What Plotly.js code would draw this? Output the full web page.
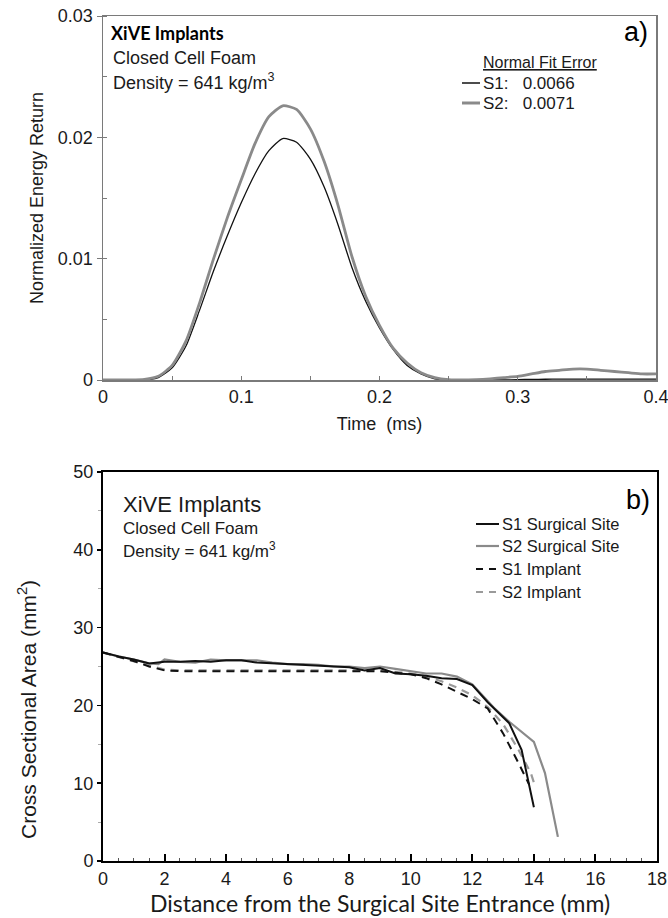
<!DOCTYPE html>
<html>
<head>
<meta charset="utf-8">
<script src="https://cdn.plot.ly/plotly-3.0.1.min.js"></script>
<style>
html,body{margin:0;padding:0;background:#ffffff;}
#chart{width:668px;height:918px;}
</style>
</head>
<body>
<div id="chart"></div>
<script>
// ---------- Panel a) data ----------
const timeMs = [0,0.01,0.02,0.03,0.04,0.05,0.06,0.07,0.08,0.09,0.10,0.11,0.12,0.13,0.14,0.15,0.16,0.17,0.18,0.19,0.20,
                0.21,0.22,0.23,0.24,0.25,0.26,0.27,0.28,0.29,0.30,0.31,0.32,0.33,0.34,0.35,0.36,0.37,0.38,0.39,0.40];
const energyS1 = [0,0,0,0,0.0002,0.0010,0.0028,0.0058,0.0090,0.0119,0.0146,0.0170,0.0189,0.0199,0.0196,0.0182,0.0159,0.0128,0.0093,0.0065,0.0043,
                  0.0025,0.0012,0.0005,0.0001,0,0,0,0,0,0.00003,0.00005,0.00006,0.00007,0.00008,0.00008,0.00008,0.00008,0.00008,0.00008,0.00008];
const energyS2 = [0,0,0,0.00005,0.0003,0.0012,0.0032,0.0064,0.0100,0.0134,0.0165,0.0195,0.0217,0.0226,0.0223,0.0207,0.0180,0.0144,0.0102,0.0069,0.0045,
                  0.0026,0.0014,0.0006,0.0002,0.00003,0,0.00003,0.0001,0.0002,0.0003,0.0005,0.0007,0.0008,0.0009,0.0009,0.0008,0.0007,0.0006,0.0005,0.0005];
const timeTickVals = [0,0.1,0.2,0.3,0.4];
const timeTickText = ['0','0.1','0.2','0.3','0.4'];
const energyTickVals = [0,0.01,0.02,0.03];
const energyTickText = ['0','0.01','0.02','0.03'];

// ---------- Panel b) data ----------
const distS1Site = [0,0.5,1.0,1.5,2.0,2.5,3.0,3.5,4.0,4.5,5.0,5.5,6.0,6.5,7.0,7.5,8.0,8.5,9.0,9.5,10.0,10.5,11.0,11.5,12.0,12.5,13.2,13.6,13.8,14.0];
const areaS1Site = [26.8,26.3,25.9,25.4,25.6,25.6,25.7,25.6,25.8,25.8,25.5,25.4,25.3,25.2,25.1,25.0,24.9,24.5,24.8,24.1,24.0,23.8,23.5,23.4,22.6,20.4,17.7,14.3,10.8,6.9];
const distS2Site = [0,0.5,1.0,1.5,1.8,2.0,2.5,3.0,3.5,4.0,4.5,5.0,5.5,6.0,6.5,7.0,7.5,8.0,8.5,9.0,9.5,10.0,10.5,11.0,11.5,12.0,12.7,13.2,14.0,14.36,14.78];
const areaS2Site = [26.8,26.3,25.9,25.4,25.3,25.9,25.6,25.5,25.9,25.8,25.8,25.8,25.5,25.3,25.3,25.2,25.0,25.0,24.8,25.0,24.7,24.4,24.1,24.1,23.7,22.7,19.7,17.9,15.3,11.3,3.1];
const distS1Implant = [0,0.5,1.0,1.5,2.0,2.5,3,4,5,6,7,8,9,10,10.5,11,11.5,12,12.5,13.0,13.5,13.85];
const areaS1Implant = [26.8,26.2,25.7,25.0,24.5,24.4,24.4,24.4,24.4,24.4,24.4,24.4,24.4,24.0,23.5,22.7,21.8,20.8,19.6,16.4,12.6,9.8];
const distS2Implant = [0,0.5,1.0,1.5,2.0,2.5,3,4,5,6,7,8,9,10,10.5,11,11.5,12,12.5,13.0,13.5,13.9,14.05];
const areaS2Implant = [26.8,26.2,25.7,25.1,24.6,24.5,24.5,24.5,24.5,24.5,24.5,24.5,24.5,24.1,23.7,23.1,22.3,21.3,19.8,17.6,14.3,11.3,9.5];
const distTickVals = [0,2,4,6,8,10,12,14,16,18];
const distTickText = ['0','2','4','6','8','10','12','14','16','18'];
const areaTickVals = [0,10,20,30,40,50];
const areaTickText = ['0','10','20','30','40','50'];

const seriesNamesA = ['S1', 'S2'];
const fitErrors = ['0.0066', '0.0071'];
const seriesNamesB = ['S1 Surgical Site', 'S2 Surgical Site', 'S1 Implant', 'S2 Implant'];

// ---------- styling ----------
const W = 668, H = 918;
const fx = p => p / W;
const fy = p => 1 - p / H;
const ARIAL = 'Liberation Sans, Arial, sans-serif';
const CAL = 'Lato, Open Sans, sans-serif';
const GRAY_AX = '#7a7a7a';
const GRAY_LINE = '#8a8a8a';
const TXT = '#1a1a1a';

const traces = [
  {x: timeMs, y: energyS1, xaxis: 'x', yaxis: 'y', type: 'scatter', mode: 'lines', name: seriesNamesA[0],
   line: {color: '#111111', width: 1.3, shape: 'spline', smoothing: 0.6}},
  {x: timeMs, y: energyS2, xaxis: 'x', yaxis: 'y', type: 'scatter', mode: 'lines', name: seriesNamesA[1],
   line: {color: GRAY_LINE, width: 2.8, shape: 'spline', smoothing: 0.6}},
  {x: distS2Site, y: areaS2Site, xaxis: 'x2', yaxis: 'y2', type: 'scatter', mode: 'lines', name: seriesNamesB[1],
   line: {color: GRAY_LINE, width: 2.2}},
  {x: distS2Implant, y: areaS2Implant, xaxis: 'x2', yaxis: 'y2', type: 'scatter', mode: 'lines', name: seriesNamesB[3],
   line: {color: '#9a9a9a', width: 2.2, dash: '8px,6px'}},
  {x: distS1Implant, y: areaS1Implant, xaxis: 'x2', yaxis: 'y2', type: 'scatter', mode: 'lines', name: seriesNamesB[2],
   line: {color: '#111111', width: 2, dash: '8px,6px'}},
  {x: distS1Site, y: areaS1Site, xaxis: 'x2', yaxis: 'y2', type: 'scatter', mode: 'lines', name: seriesNamesB[0],
   line: {color: '#111111', width: 2}}
];

const tickFont = {family: ARIAL, size: 18, color: TXT};

const layout = {
  width: W, height: H,
  margin: {l: 0, r: 0, t: 0, b: 0},
  paper_bgcolor: '#ffffff', plot_bgcolor: '#ffffff',
  showlegend: false,
  xaxis: {
    domain: [fx(103), fx(656)], range: [0, 0.40001], anchor: 'y',
    tickmode: 'array', tickvals: timeTickVals, ticktext: timeTickText, ticklabeloverflow: 'allow',
    ticks: 'inside', ticklen: 4, tickcolor: GRAY_AX, tickwidth: 1,
    minor: {tickmode: 'linear', tick0: 0, dtick: 0.05, ticks: 'inside', ticklen: 4, tickcolor: GRAY_AX},
    showline: true, linecolor: GRAY_AX, linewidth: 1.5, mirror: true,
    showgrid: false, zeroline: false, tickfont: tickFont,
    title: {text: 'Time  (ms)', font: {family: ARIAL, size: 18, color: TXT}, standoff: 11}
  },
  yaxis: {
    domain: [fy(380), fy(16)], range: [0, 0.03], anchor: 'x',
    tickmode: 'array', tickvals: energyTickVals, ticktext: energyTickText, ticklabeloverflow: 'allow',
    ticks: 'outside', ticklen: 5, tickcolor: GRAY_AX, tickwidth: 1,
    minor: {tickmode: 'linear', tick0: 0, dtick: 0.005, ticks: 'inside', ticklen: 4, tickcolor: GRAY_AX},
    showline: true, linecolor: GRAY_AX, linewidth: 1.5, mirror: true,
    showgrid: false, zeroline: false, tickfont: tickFont,
    title: {text: 'Normalized Energy Return', font: {family: ARIAL, size: 18, color: TXT}, standoff: 9}
  },
  xaxis2: {
    domain: [fx(103), fx(657)], range: [0, 18], anchor: 'y2',
    tickmode: 'array', tickvals: distTickVals, ticktext: distTickText, ticklabeloverflow: 'allow',
    ticks: 'inside', ticklen: 7, tickcolor: '#000', tickwidth: 2,
    minor: {tickmode: 'linear', tick0: 0, dtick: 0.5, ticks: 'inside', ticklen: 3, tickcolor: '#555', tickwidth: 1},
    showline: true, linecolor: '#000', linewidth: 2, mirror: true,
    showgrid: false, zeroline: false, tickfont: tickFont,
    title: {text: 'Distance from the Surgical Site Entrance (mm)', font: {family: CAL, size: 23, color: TXT}, standoff: 6}
  },
  yaxis2: {
    domain: [fy(861), fy(472)], range: [0, 50], anchor: 'x2',
    tickmode: 'array', tickvals: areaTickVals, ticktext: areaTickText, ticklabeloverflow: 'allow',
    ticks: 'outside', ticklen: 4, tickcolor: '#000', tickwidth: 1.5,
    minor: {tickmode: 'linear', tick0: 0, dtick: 5, ticks: 'outside', ticklen: 3, tickcolor: '#aaa', tickwidth: 1},
    showline: true, linecolor: '#000', linewidth: 2, mirror: true,
    showgrid: false, zeroline: false, tickfont: tickFont
  },
  annotations: [
    // panel b y-axis title (sits low along the axis, as in the reference)
    {xref: 'paper', yref: 'paper', x: fx(27), y: fy(710), xanchor: 'center', yanchor: 'middle', showarrow: false,
     textangle: -90, text: 'Cross Sectional Area (mm<sup>2</sup>)', font: {family: ARIAL, size: 21, color: TXT}},
    // panel a text
    {xref: 'paper', yref: 'paper', x: fx(109), y: fy(33), xanchor: 'left', yanchor: 'middle', showarrow: false,
     text: '<b>XiVE Implants</b>', font: {family: CAL, size: 18, color: '#000'}},
    {xref: 'paper', yref: 'paper', x: fx(111), y: fy(58), xanchor: 'left', yanchor: 'middle', showarrow: false,
     text: 'Closed Cell Foam', font: {family: ARIAL, size: 18, color: TXT}},
    {xref: 'paper', yref: 'paper', x: fx(111), y: fy(82), xanchor: 'left', yanchor: 'middle', showarrow: false,
     text: 'Density = 641 kg/m<sup>3</sup>', font: {family: ARIAL, size: 18, color: TXT}},
    {xref: 'paper', yref: 'paper', x: fx(650), y: fy(32), xanchor: 'right', yanchor: 'middle', showarrow: false,
     text: 'a)', font: {family: ARIAL, size: 27, color: '#000'}},
    {xref: 'paper', yref: 'paper', x: fx(540), y: fy(63), xanchor: 'center', yanchor: 'middle', showarrow: false,
     text: '<u>Normal Fit Error</u>', font: {family: ARIAL, size: 16, color: TXT}},
    {xref: 'paper', yref: 'paper', x: fx(481), y: fy(83), xanchor: 'left', yanchor: 'middle', showarrow: false,
     text: seriesNamesA[0] + ':   ' + fitErrors[0], font: {family: ARIAL, size: 17, color: TXT}},
    {xref: 'paper', yref: 'paper', x: fx(481), y: fy(103), xanchor: 'left', yanchor: 'middle', showarrow: false,
     text: seriesNamesA[1] + ':   ' + fitErrors[1], font: {family: ARIAL, size: 17, color: TXT}},
    // panel b text
    {xref: 'paper', yref: 'paper', x: fx(121), y: fy(504), xanchor: 'left', yanchor: 'middle', showarrow: false,
     text: 'XiVE Implants', font: {family: ARIAL, size: 22, color: TXT}},
    {xref: 'paper', yref: 'paper', x: fx(121), y: fy(528), xanchor: 'left', yanchor: 'middle', showarrow: false,
     text: 'Closed Cell Foam', font: {family: ARIAL, size: 17, color: TXT}},
    {xref: 'paper', yref: 'paper', x: fx(121), y: fy(550), xanchor: 'left', yanchor: 'middle', showarrow: false,
     text: 'Density = 641 kg/m<sup>3</sup>', font: {family: ARIAL, size: 17, color: TXT}},
    {xref: 'paper', yref: 'paper', x: fx(652), y: fy(500), xanchor: 'right', yanchor: 'middle', showarrow: false,
     text: 'b)', font: {family: ARIAL, size: 27, color: '#000'}},
    {xref: 'paper', yref: 'paper', x: fx(500), y: fy(524), xanchor: 'left', yanchor: 'middle', showarrow: false,
     text: seriesNamesB[0], font: {family: ARIAL, size: 16.5, color: TXT}},
    {xref: 'paper', yref: 'paper', x: fx(500), y: fy(546), xanchor: 'left', yanchor: 'middle', showarrow: false,
     text: seriesNamesB[1], font: {family: ARIAL, size: 16.5, color: TXT}},
    {xref: 'paper', yref: 'paper', x: fx(500), y: fy(569), xanchor: 'left', yanchor: 'middle', showarrow: false,
     text: seriesNamesB[2], font: {family: ARIAL, size: 16.5, color: TXT}},
    {xref: 'paper', yref: 'paper', x: fx(500), y: fy(592), xanchor: 'left', yanchor: 'middle', showarrow: false,
     text: seriesNamesB[3], font: {family: ARIAL, size: 16.5, color: TXT}}
  ],
  shapes: [
    {type: 'line', xref: 'paper', yref: 'paper', x0: fx(462), x1: fx(480), y0: fy(83), y1: fy(83), line: {color: '#111', width: 1.5}},
    {type: 'line', xref: 'paper', yref: 'paper', x0: fx(462), x1: fx(480), y0: fy(103), y1: fy(103), line: {color: GRAY_LINE, width: 3}},
    {type: 'line', xref: 'paper', yref: 'paper', x0: fx(476), x1: fx(499), y0: fy(524), y1: fy(524), line: {color: '#111', width: 2}},
    {type: 'line', xref: 'paper', yref: 'paper', x0: fx(476), x1: fx(499), y0: fy(546), y1: fy(546), line: {color: GRAY_LINE, width: 2.2}},
    {type: 'line', xref: 'paper', yref: 'paper', x0: fx(476), x1: fx(499), y0: fy(569), y1: fy(569), line: {color: '#111', width: 2, dash: '7px,6px'}},
    {type: 'line', xref: 'paper', yref: 'paper', x0: fx(476), x1: fx(499), y0: fy(592), y1: fy(592), line: {color: '#9a9a9a', width: 2.2, dash: '7px,6px'}}
  ]
};

Plotly.newPlot('chart', traces, layout, {displayModeBar: false, staticPlot: true});
</script>
</body>
</html>
